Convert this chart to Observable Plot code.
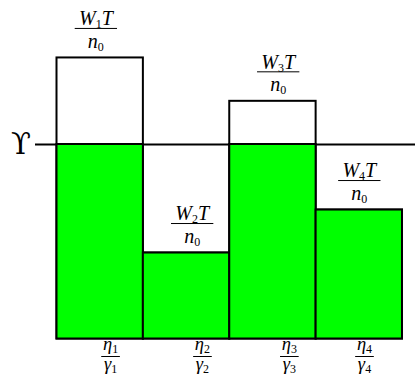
<!DOCTYPE html>
<html>
<head>
<meta charset="utf-8">
<script src="https://cdn.jsdelivr.net/npm/d3@7"></script>
<script src="https://cdn.jsdelivr.net/npm/@observablehq/plot@0.6"></script>
<style>
  html, body { margin: 0; padding: 0; background: #fff; }
</style>
</head>
<body>
<div id="chart"></div>
<script>
// Bars: heights of W_i T / n_0, in units where Upsilon = 1
const bars = [1, 2, 3, 4];
const workload = [1.445, 0.442, 1.222, 0.663];
const upsilon = 1;
const upsilonLabel = "ϒ";
const numerLabels = ["W₁T", "W₂T", "W₃T", "W₄T"];
const denomLabels = ["n₀", "n₀", "n₀", "n₀"];
const etaLabels = ["η₁", "η₂", "η₃", "η₄"];
const gammaLabels = ["γ₁", "γ₂", "γ₃", "γ₄"];
// label anchor positions along the bar axis (bar i spans i-1 .. i)
const topLabelAt = [0.45, 1.565, 2.561, 3.50];
const bottomLabelAt = [0.62, 1.684, 2.69, 3.56];

const table = bars.map((b, i) => ({
  i, bar: b, w: workload[i],
  numer: numerLabels[i], denom: denomLabels[i],
  eta: etaLabels[i], gamma: gammaLabels[i],
  topAt: topLabelAt[i], botAt: bottomLabelAt[i]
}));

const font = "'Liberation Serif', 'DejaVu Serif', serif";
const topHalf = 0.245, botHalf = 0.108;
const topSize = 20, botSize = 18.5;

const chart = Plot.plot({
  width: 415,
  height: 379,
  marginLeft: 35,
  marginRight: 0,
  marginTop: 0,
  marginBottom: 0,
  style: { fontFamily: font, background: "#fff", color: "#000" },
  x: { domain: [0, 4], range: [56.5, 402], axis: null },
  y: { domain: [0, 1], range: [338.5, 144], axis: null },
  marks: [
    Plot.ruleY([upsilon], { stroke: "black", strokeWidth: 2 }),
    Plot.text([upsilon], { y: d => d, text: () => upsilonLabel, frameAnchor: "left", dx: -14.5,
      textAnchor: "middle", lineAnchor: "middle", fontSize: 29, fill: "black",
      fontFamily: "'DejaVu Serif', serif", className: "ups" }),
    Plot.rectY(table, { x1: d => d.i, x2: d => d.i + 1, y1: 0, y2: "w",
      fill: "white", stroke: "black", strokeWidth: 2 }),
    Plot.rectY(table, { x1: d => d.i, x2: d => d.i + 1, y1: 0, y2: d => Math.min(d.w, upsilon),
      fill: "#00ff00", stroke: "black", strokeWidth: 2 }),
    // top fractions
    Plot.text(table, { x: "topAt", y: "w", text: "numer", dy: -39, fontSize: topSize,
      fontStyle: "italic", textAnchor: "middle", lineAnchor: "middle", fill: "black", className: "frac" }),
    Plot.link(table, { x1: d => d.topAt - topHalf, x2: d => d.topAt + topHalf, y1: "w", y2: "w",
      dy: -29.5, stroke: "black", strokeWidth: 1 }),
    Plot.text(table, { x: "topAt", y: "w", text: "denom", dy: -16.5, fontSize: topSize,
      fontStyle: "italic", textAnchor: "middle", lineAnchor: "middle", fill: "black", className: "frac" }),
    // bottom fractions
    Plot.text(table, { x: "botAt", y: 0, text: "eta", dy: 5.5, fontSize: botSize,
      fontStyle: "italic", textAnchor: "middle", lineAnchor: "middle", fill: "black", className: "frac" }),
    Plot.link(table, { x1: d => d.botAt - botHalf, x2: d => d.botAt + botHalf, y1: 0, y2: 0,
      dy: 17.5, stroke: "black", strokeWidth: 1 }),
    Plot.text(table, { x: "botAt", y: 0, text: "gamma", dy: 25.5, fontSize: botSize,
      fontStyle: "italic", textAnchor: "middle", lineAnchor: "middle", fill: "black", className: "frac" })
  ]
});

// render subscript digits as upright, smaller, lowered tspans (TeX-like)
const subs = "₀₁₂₃₄₅₆₇₈₉";
d3.select(chart).selectAll(".frac text").each(function () {
  const s = this.textContent;
  const size = parseFloat(getComputedStyle(this).fontSize) || 17;
  const shift = Math.round(size * 0.2);
  const sel = d3.select(this);
  sel.text(null);
  let buf = "", pending = 0;
  const flush = () => {
    if (buf) {
      const t = sel.append("tspan").text(buf);
      if (pending) { t.attr("dy", -pending); pending = 0; }
      buf = "";
    }
  };
  for (const ch of s) {
    const k = subs.indexOf(ch);
    if (k >= 0) {
      flush();
      sel.append("tspan").attr("font-style", "normal").attr("font-size", Math.round(size * 0.72))
        .attr("dy", shift).text(String(k));
      pending = shift;
    } else buf += ch;
  }
  flush();
});

document.getElementById("chart").append(chart);
</script>
</body>
</html>
